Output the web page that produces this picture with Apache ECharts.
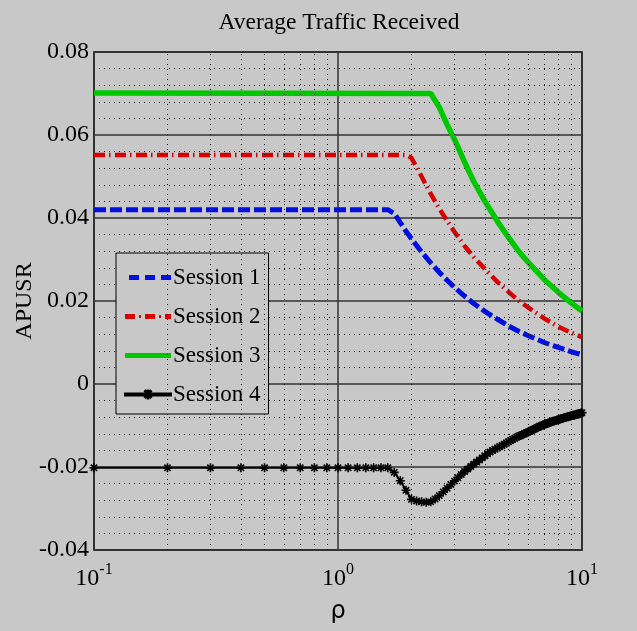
<!DOCTYPE html>
<html>
<head>
<meta charset="utf-8">
<script src="https://cdn.jsdelivr.net/npm/echarts@6/dist/echarts.min.js"></script>
<style>
  html, body { margin: 0; padding: 0; background: #c8c8c8; }
  #chart { width: 637px; height: 631px; }
</style>
</head>
<body>
<div id="chart"></div>
<script>
var names = ['Session 1', 'Session 2', 'Session 3', 'Session 4'];

// session 1 (blue dashed)
var p1 = [0.1, 1.6, 1.7, 1.8, 1.9, 2.0, 2.2, 2.4, 2.6, 2.8, 3.0, 3.3, 3.6, 4.0, 4.5, 5.0, 5.5, 6.0, 7.0, 8.0, 9.0, 10];
var v1 = [0.0420, 0.0420, 0.0411, 0.0389, 0.0368, 0.0350, 0.0318, 0.0292, 0.0269, 0.0250, 0.0233, 0.0212, 0.0194, 0.0175, 0.0156, 0.0140, 0.0127, 0.0117, 0.0100, 0.0088, 0.0078, 0.0070];

// session 2 (red dash-dot)
var p2 = [0.1, 1.9, 2.0, 2.1, 2.2, 2.4, 2.6, 2.8, 3.0, 3.3, 3.6, 4.0, 4.5, 5.0, 5.5, 6.0, 7.0, 8.0, 9.0, 10];
var v2 = [0.0552, 0.0552, 0.0545, 0.0522, 0.0500, 0.0458, 0.0423, 0.0393, 0.0367, 0.0333, 0.0306, 0.0277, 0.0246, 0.0222, 0.0201, 0.0185, 0.0158, 0.0138, 0.0124, 0.0113];

// session 3 (green solid)
var p3 = [0.1, 2.4, 2.5, 2.6, 2.8, 3.0, 3.3, 3.6, 4.0, 4.5, 5.0, 5.5, 6.0, 7.0, 8.0, 9.0, 10];
var v3 = [0.0701, 0.0700, 0.0683, 0.0667, 0.0625, 0.0590, 0.0535, 0.0488, 0.0440, 0.0392, 0.0353, 0.0320, 0.0294, 0.0252, 0.0221, 0.0196, 0.0176];

// session 4 (black, star markers)
var p4 = [0.1, 0.2, 0.3, 0.4, 0.5, 0.6, 0.7, 0.8, 0.9, 1.0,
          1.1, 1.2, 1.3, 1.4, 1.5, 1.6, 1.7, 1.8, 1.9, 2.0,
          2.1, 2.2, 2.3, 2.4, 2.5, 2.6, 2.7, 2.8, 2.9, 3.0,
          3.1, 3.2, 3.3, 3.4, 3.5, 3.6, 3.7, 3.8, 3.9, 4.0,
          4.1, 4.2, 4.3, 4.4, 4.5, 4.6, 4.7, 4.8, 4.9, 5.0,
          5.1, 5.2, 5.3, 5.4, 5.5, 5.6, 5.7, 5.8, 5.9, 6.0,
          6.1, 6.2, 6.3, 6.4, 6.5, 6.6, 6.7, 6.8, 6.9, 7.0,
          7.1, 7.2, 7.3, 7.4, 7.5, 7.6, 7.7, 7.8, 7.9, 8.0,
          8.1, 8.2, 8.3, 8.4, 8.5, 8.6, 8.7, 8.8, 8.9, 9.0,
          9.1, 9.2, 9.3, 9.4, 9.5, 9.6, 9.7, 9.8, 9.9, 10.0];
var v4 = [-0.0202, -0.0202, -0.0202, -0.0202, -0.0202, -0.0202, -0.0202, -0.0202, -0.0202, -0.0202,
          -0.0202, -0.0202, -0.0202, -0.0202, -0.0202, -0.0202, -0.0213, -0.0233, -0.0256, -0.0278,
          -0.0282, -0.0284, -0.0285, -0.0284, -0.0277, -0.0269, -0.0260, -0.0251, -0.0242, -0.0234,
          -0.0226, -0.0218, -0.0211, -0.0205, -0.0199, -0.0193, -0.0188, -0.0183, -0.0178, -0.0173,
          -0.0168, -0.0164, -0.0160, -0.0157, -0.0154, -0.0151, -0.0148, -0.0145, -0.0142, -0.0139,
          -0.0136, -0.0133, -0.0131, -0.0128, -0.0126, -0.0124, -0.0122, -0.0120, -0.0118, -0.0116,
          -0.0114, -0.0112, -0.0110, -0.0108, -0.0106, -0.0104, -0.0102, -0.0101, -0.0099, -0.0098,
          -0.0096, -0.0095, -0.0094, -0.0092, -0.0091, -0.0090, -0.0089, -0.0088, -0.0087, -0.0086,
          -0.0085, -0.0084, -0.0083, -0.0082, -0.0081, -0.0080, -0.0079, -0.0079, -0.0078, -0.0077,
          -0.0076, -0.0075, -0.0075, -0.0074, -0.0073, -0.0072, -0.0072, -0.0071, -0.0070, -0.0069];

// dotted vertical grid at the minor decades
var logMinors = [0.2, 0.3, 0.4, 0.5, 0.6, 0.7, 0.8, 0.9, 2, 3, 4, 5, 6, 7, 8, 9];

var font = 'Liberation Serif';
var starPath = 'path://M0,5L10,5M5,0L5,10M1.5,1.5L8.5,8.5M8.5,1.5L1.5,8.5';

function pairs(xs, ys) {
  return xs.map(function(x, i) { return [x, ys[i]]; });
}

var chart = echarts.init(document.getElementById('chart'));

var option = {
  backgroundColor: '#c8c8c8',
  animation: false,
  title: {
    text: 'Average Traffic Received',
    left: 334,
    textAlign: 'center',
    top: 6,
    textStyle: { fontFamily: font, fontSize: 23.5, fontWeight: 'normal', color: '#000' }
  },
  legend: {
    orient: 'vertical',
    left: 116,
    top: 253,
    padding: [13, 8, 8, 8],
    itemWidth: 46,
    itemHeight: 14,
    itemGap: 16,
    backgroundColor: '#c8c8c8',
    borderColor: '#000',
    borderWidth: 1,
    textStyle: { fontFamily: font, fontSize: 23, lineHeight: 23, color: '#000', padding: [0, 0, 0, -3] },
    data: [
      { name: names[0], icon: 'path://M0,0M46,5M4,0h10v5h-10z M20,0h10v5h-10z M36,0h10v5h-10z' },
      { name: names[1], icon: 'path://M0,0h10v5h-10z M14,1h2v3h-2z M20,0h10v5h-10z M34,1h2v3h-2z M40,0h6v5h-6z' },
      { name: names[2], icon: 'path://M0,0h46v5h-46z' },
      { name: names[3], icon: 'path://M0,3.5h46v2h-46z M22.6,0.5h0.8v8h-0.8z M19.9,1.3L20.5,0.7L26.1,6.9L25.5,7.5Z M25.5,0.7L26.1,1.3L20.5,7.5L19.9,6.9Z' }
    ]
  },
  grid: {
    left: 94,
    right: 55,
    top: 52,
    bottom: 81,
    outerBoundsMode: 'none',
    show: true,
    backgroundColor: 'transparent',
    borderColor: '#000',
    borderWidth: 1.5
  },
  xAxis: {
    type: 'log',
    logBase: 10,
    min: 0.1,
    max: 10,
    name: 'ρ',
    nameLocation: 'middle',
    nameGap: 50,
    nameTextStyle: { fontFamily: 'DejaVu Sans', fontSize: 24, color: '#000' },
    axisLine: { show: false },
    axisTick: { show: false },
    splitLine: { show: true, lineStyle: { color: '#333', width: 1.5 } },
    axisLabel: {
      margin: 12,
      formatter: function(v) {
        var e = Math.round(Math.log(v) / Math.LN10);
        return '{b|10}{e|' + e + '}';
      },
      rich: {
        b: { fontFamily: font, fontSize: 24, color: '#000', verticalAlign: 'bottom' },
        e: { fontFamily: font, fontSize: 16, color: '#000', verticalAlign: 'bottom', padding: [0, 0, 13, 0] }
      }
    }
  },
  yAxis: {
    type: 'value',
    min: -0.04,
    max: 0.08,
    interval: 0.02,
    name: 'APUSR',
    nameLocation: 'middle',
    nameGap: 57,
    nameMoveOverlap: false,
    nameTextStyle: { fontFamily: font, fontSize: 24, color: '#000' },
    axisLine: { show: false },
    axisTick: { show: false },
    axisLabel: {
      margin: 5,
      fontFamily: font,
      fontSize: 24,
      color: '#000',
      formatter: function(v) { return Math.abs(v) < 1e-9 ? '0' : v.toFixed(2); }
    },
    splitLine: { show: true, lineStyle: { color: '#333', width: 1.5 } },
    minorTick: { show: false, splitNumber: 5 },
    minorSplitLine: { show: true, lineStyle: { color: '#000', width: 1, type: [1, 4] } }
  },
  series: [{
    name: 'minor grid',
    type: 'line',
    data: [],
    z: 1,
    silent: true,
    markLine: {
      silent: true,
      symbol: 'none',
      label: { show: false },
      lineStyle: { color: '#000', width: 1, type: [1, 4] },
      data: logMinors.map(function(x) { return { xAxis: x }; })
    }
  }, {
    name: names[0],
    type: 'line',
    z: 3,
    symbol: 'none',
    color: '#0010e0',
    lineStyle: { color: '#0010e0', width: 5, type: [12, 4] },
    data: pairs(p1, v1)
  }, {
    name: names[1],
    type: 'line',
    z: 3,
    symbol: 'none',
    color: '#d80000',
    lineStyle: { color: '#d80000', width: 4.5, type: [11, 4, 1.5, 4.5] },
    data: pairs(p2, v2)
  }, {
    name: names[2],
    type: 'line',
    z: 3,
    symbol: 'none',
    color: '#00c800',
    lineStyle: { color: '#00c800', width: 5.5 },
    data: pairs(p3, v3)
  }, {
    name: names[3],
    type: 'line',
    z: 4,
    color: '#000',
    symbol: starPath,
    symbolSize: 9,
    itemStyle: { color: '#000', borderColor: '#000', borderWidth: 1.6 },
    lineStyle: { color: '#000', width: 2 },
    data: pairs(p4, v4)
  }]
};

chart.setOption(option);
</script>
</body>
</html>
